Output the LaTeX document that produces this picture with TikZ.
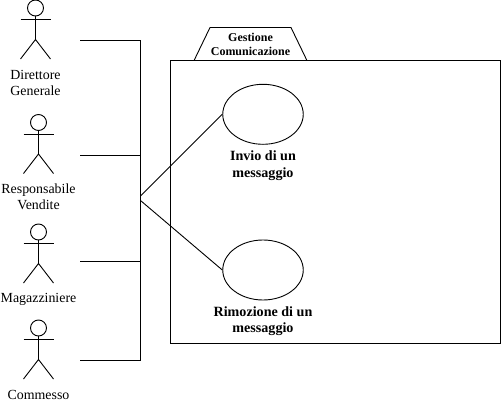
\documentclass[tikz,border=0pt]{standalone}
\usepackage{fontspec}
\setmainfont{Liberation Serif}
\usetikzlibrary{positioning,shapes.geometric}

\tikzset{
	actor/.pic={
		\node[circle,draw,inner sep=0pt,minimum size=16pt] (-head) at (0,0) {};
		\coordinate (-hip) at (0,31.5);
		\draw (-head.south) -- (-hip);
		\draw (-15,11.5) -- (15,11.5);
		\draw (-15,51) -- (-hip) -- (15,51);
	},
	actorlabel/.style={align=center,inner sep=0pt,font=\fontsize{13.9}{16}\selectfont},
	caselabel/.style={align=center,inner sep=0pt,font=\fontsize{14.1}{16.5}\selectfont\bfseries},
	usecase/.style={ellipse,draw,inner sep=0pt,minimum width=80.5pt,minimum height=60pt},
}

\begin{document}
\begin{tikzpicture}[x=1pt,y=-1pt,line width=0.9pt]
	\useasboundingbox (0,0) rectangle (501,404);

	\pic (a1) at (35.5,8) {actor};
	\pic (a2) at (38.5,122.5) {actor};
	\pic (a3) at (38.5,232) {actor};
	\pic (a4) at (38.5,328) {actor};

	\node[actorlabel] (l1) at (35.5,82.5) {Direttore\\Generale};
	\node[actorlabel] (l2) at (38.5,196.5) {Responsabile\\Vendite};
	\node[actorlabel] (l3) at (38.5,299) {Magazziniere};
	\node[actorlabel] (l4) at (38.5,394.5) {Commesso};

	% tab and frame
	\coordinate (t1) at (194.3,60);
	\coordinate (t2) at (210,27.5);
	\coordinate (t3) at (291,27.5);
	\coordinate (t4) at (306.7,60);
	\draw (t1) -- (t2) -- (t3) -- (t4);
	\node[draw,inner sep=0pt,minimum width=330pt,minimum height=283pt] (sys) at (335.7,201.5) {};
	\node[align=center,inner sep=0pt,font=\fontsize{12}{14.5}\selectfont\bfseries] (title) at (250.5,44.5) {Gestione\\Comunicazione};

	\node[usecase] (uc1) at (263,114.3) {};
	\node[usecase] (uc2) at (263,270) {};
	\node[caselabel] (c1) at (263,165.5) {Invio di un\\messaggio};
	\node[caselabel] (c2) at (263,321) {Rimozione di un\\messaggio};

	% bus on the left
	\coordinate (s1) at (80,40.5);
	\coordinate (s2) at (80,155);
	\coordinate (s3) at (80,261.5);
	\coordinate (s4) at (80,360);
	\coordinate (b1) at (140.5,40.5);
	\coordinate (b2) at (140.5,155);
	\coordinate (b3) at (140.5,261.5);
	\coordinate (b4) at (140.5,360);
	\coordinate (b5) at (140.5,196);
	\coordinate (b6) at (140.5,200.5);

	\draw (s1) -- (b1) -- (b4) -- (s4);
	\draw (s2) -- (b2);
	\draw (s3) -- (b3);
	\draw (b5) -- (uc1.west);
	\draw (b6) -- (uc2.west);
\end{tikzpicture}
\end{document}
